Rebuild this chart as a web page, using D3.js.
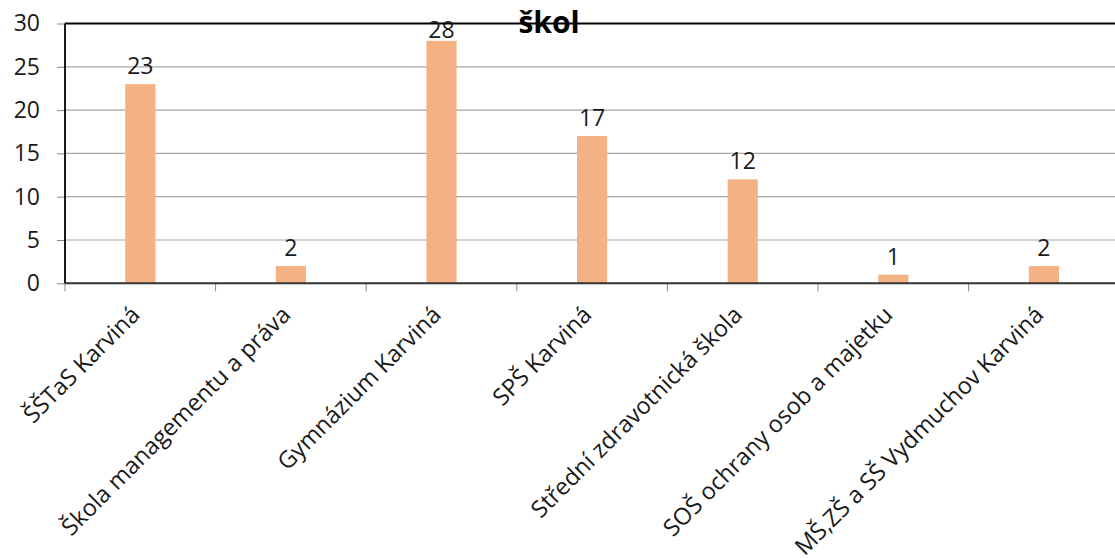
<!DOCTYPE html>
<html>
<head>
<meta charset="utf-8">
<script src="https://cdn.jsdelivr.net/npm/d3@7"></script>
<style>
  html, body { margin: 0; padding: 0; background: #fff; overflow: hidden; }
  svg { display: block; font-family: "Open Sans", sans-serif; }
</style>
</head>
<body>
<svg id="chart" width="1115" height="558"></svg>
<script>
const title = "škol";
const categories = [
  "ŠŠTaS Karviná",
  "Škola managementu a práva",
  "Gymnázium Karviná",
  "SPŠ Karviná",
  "Střední zdravotnická škola",
  "SOŠ ochrany osob a majetku",
  "MŠ,ZŠ a SŠ Vydmuchov Karviná"
];
const values = [23, 2, 28, 17, 12, 1, 2];
const yTicks = [0, 5, 10, 15, 20, 25, 30];

const svg = d3.select("#chart");
const plotLeft = 65, plotTop = 23.5, plotBottom = 283.3;
const band = 150.6;
const plotRight = plotLeft + band * categories.length;

const x = d3.scaleBand().domain(categories).range([plotLeft, plotRight]).paddingInner(0.8).paddingOuter(0.4);
const y = d3.scaleLinear().domain([0, 30]).range([plotBottom, plotTop]);

// gridlines
svg.append("g").selectAll("line").data(yTicks.filter(d => d > 0 && d < 30)).join("line")
  .attr("x1", plotLeft).attr("x2", plotRight)
  .attr("y1", d => y(d)).attr("y2", d => y(d))
  .attr("stroke", "#a6a6a6").attr("stroke-width", 1.2);

// y axis
const yAxis = svg.append("g").attr("transform", `translate(${plotLeft},0)`)
  .call(d3.axisLeft(y).tickValues(yTicks).tickSize(8).tickPadding(17));
yAxis.select(".domain").remove();
yAxis.selectAll(".tick line").attr("stroke", "#888");
yAxis.selectAll(".tick text").attr("font-size", 23).attr("fill", "#1a1a1a")
  .attr("font-family", "Open Sans, sans-serif");

// x ticks at category boundaries
const bounds = d3.range(categories.length + 1).map(i => plotLeft + i * band);
svg.append("g").selectAll("line").data(bounds).join("line")
  .attr("x1", d => d).attr("x2", d => d)
  .attr("y1", plotBottom).attr("y2", plotBottom + 8)
  .attr("stroke", "#888").attr("stroke-width", 1);

// bars
svg.append("g").selectAll("rect").data(values).join("rect")
  .attr("x", (d, i) => x(categories[i]))
  .attr("width", x.bandwidth())
  .attr("y", d => y(d))
  .attr("height", d => plotBottom - y(d))
  .attr("fill", "#f4b183");

// frame lines
svg.append("line").attr("x1", plotLeft).attr("x2", plotRight).attr("y1", plotTop).attr("y2", plotTop)
  .attr("stroke", "#000").attr("stroke-width", 2.2);
svg.append("line").attr("x1", plotLeft).attr("x2", plotLeft).attr("y1", plotTop).attr("y2", plotBottom)
  .attr("stroke", "#000").attr("stroke-width", 1.8);
svg.append("line").attr("x1", plotLeft).attr("x2", plotRight).attr("y1", plotBottom).attr("y2", plotBottom)
  .attr("stroke", "#333").attr("stroke-width", 2);

// data labels
svg.append("g").selectAll("text").data(values).join("text")
  .attr("x", (d, i) => x(categories[i]) + x.bandwidth() / 2)
  .attr("y", d => Math.max(y(d) - 10, 38))
  .attr("text-anchor", "middle")
  .attr("font-size", 23).attr("fill", "#1a1a1a")
  .text(d => d);

// category labels
svg.append("g").selectAll("text").data(categories).join("text")
  .attr("transform", d => `translate(${x(d) + x.bandwidth() / 2 + 1},${plotBottom + 33}) rotate(-45)`)
  .attr("text-anchor", "end")
  .attr("font-size", 23.5).attr("fill", "#1a1a1a")
  .text(d => d);

// title
svg.append("text").attr("x", 549).attr("y", 33)
  .attr("text-anchor", "middle").attr("font-weight", "bold")
  .attr("font-size", 30).attr("fill", "#000")
  .text(title);
</script>
</body>
</html>
